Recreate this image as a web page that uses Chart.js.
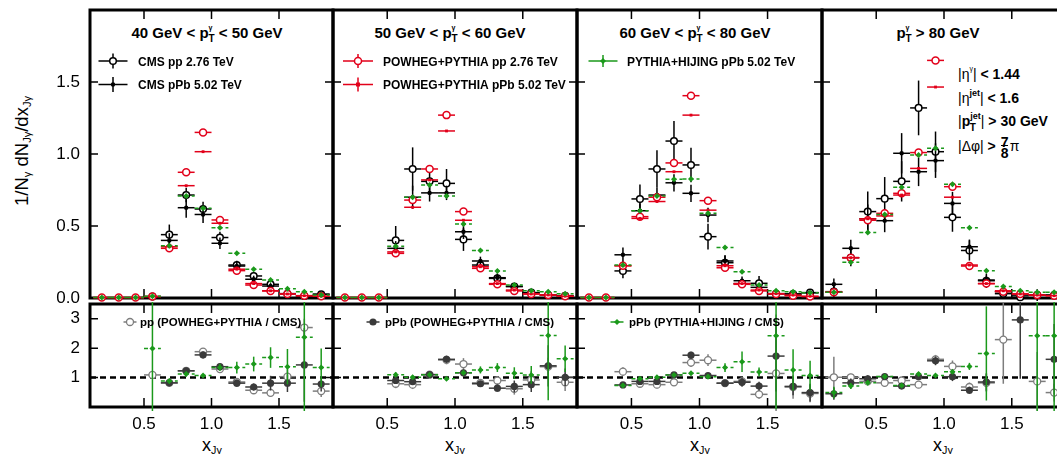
<!DOCTYPE html>
<html>
<head>
  <meta charset="utf-8">
  <title>x_Jγ distributions: CMS data vs POWHEG+PYTHIA and PYTHIA+HIJING</title>
  <style>
    body { margin: 0; width: 1057px; height: 454px; overflow: hidden; position: relative; background: #fff; color: #000; font-family: 'Liberation Sans', Arial, sans-serif; }
    canvas { position: absolute; }
    .t { position: absolute; white-space: nowrap; line-height: 1; }
    .ptitle { font-size: 15px; font-weight: bold; top: 25px; transform: translateX(-50%); }
    .sg { position: relative; font-size: 7px; top: -8px; }
    .sT { position: relative; font-size: 10px; top: 4px; margin-left: -4px; }
    .xt { font-size: 18px; top: 436px; transform: translateX(-50%); }
    .xt sub, #ytitle sub { font-size: 0.6em; position: relative; top: 0.3em; vertical-align: baseline; line-height: 0; }
    #ytitle { font-size: 18.5px; left: 22px; top: 151px; transform: translate(-50%, -50%) rotate(-90deg); }
    .cut { font-size: 14px; font-weight: bold; left: 958px; }
    .rg { font-weight: normal; }
    .sj { position: relative; font-size: 9px; top: -7px; }
    .sj7 { position: relative; font-size: 7px; top: -8px; font-weight: normal; }
    .sTj { position: relative; font-size: 10px; top: 5px; margin-left: -11px; margin-right: 5px; }
    .frac { display: inline-block; position: relative; width: 10px; height: 0; }
    .frac span { position: absolute; left: 1px; }
  </style>
</head>
<body>
  <div class="t" id="ytitle">1/N<sub>γ</sub> dN<sub>Jγ</sub>/dx<sub>Jγ</sub></div>

  <div class="t ptitle" style="left:207px">40 GeV &lt; p<span class="sg">γ</span><span class="sT">T</span> &lt; 50 GeV</div>
  <div class="t ptitle" style="left:450px">50 GeV &lt; p<span class="sg">γ</span><span class="sT">T</span> &lt; 60 GeV</div>
  <div class="t ptitle" style="left:695px">60 GeV &lt; p<span class="sg">γ</span><span class="sT">T</span> &lt; 80 GeV</div>
  <div class="t ptitle" style="left:938px">p<span class="sg">γ</span><span class="sT">T</span> &gt; 80 GeV</div>

  <div class="t cut" style="top:67px"><span class="rg">|η</span><span class="sj7">γ</span><span class="rg">|</span> &lt; 1.44</div>
  <div class="t cut" style="top:91px"><span class="rg">|η</span><span class="sj">jet</span><span class="rg">|</span> &lt; 1.6</div>
  <div class="t cut" style="top:114px"><span class="rg">|</span>p<span class="sj">jet</span><span class="sTj">T</span><span class="rg">|</span> &gt; 30 GeV</div>
  <div class="t cut" style="top:139px"><span class="rg">|Δφ|</span> &gt; <span class="frac"><span style="top:-16px">7</span><span style="top:-6px;border-top:1px solid #000">8</span></span><span class="rg">π</span></div>

  <div class="t xt" style="left:212px">x<sub>Jγ</sub></div>
  <div class="t xt" style="left:455px">x<sub>Jγ</sub></div>
  <div class="t xt" style="left:700px">x<sub>Jγ</sub></div>
  <div class="t xt" style="left:943px">x<sub>Jγ</sub></div>

  <script src="https://cdn.jsdelivr.net/npm/chart.js"></script>
  <script>
    // x_Jγ bins (centres), axis ticks
    const binCenters = [0.1875, 0.3125, 0.4375, 0.5625, 0.6875, 0.8125, 0.9375, 1.0625, 1.1875, 1.3125, 1.4375, 1.5625, 1.6875, 1.8125];
    const binHalfWidth = 0.0625;
    const xTicks = [0.5, 1.0, 1.5];
    const topTicks = [0, 0.5, 1.0, 1.5];
    const ratioTicks = [1, 2, 3];

    // upper panels: one row per photon pT bin (40-50, 50-60, 60-80, >80 GeV)
    const cmsPP = [
      [null, null, null, 0.01, 0.44, 0.715, 0.618, 0.42, 0.229, 0.153, 0.095, 0.03, 0.014, 0.026],
      [null, null, null, 0.40, 0.896, 0.81, 0.796, 0.407, 0.229, 0.136, 0.08, 0.037, 0.021, 0.016],
      [null, null, 0.188, 0.688, 0.896, 1.09, 0.924, 0.426, 0.245, 0.10, 0.102, 0.03, 0.028, 0.037],
      [0.044, 0.28, 0.60, 0.69, 0.81, 1.32, 1.016, 0.56, 0.33, 0.12, 0.03, 0.005, 0.02, 0.02]
    ];
    const cmsPPErr = [
      [0, 0, 0, 0.01, 0.07, 0.05, 0.05, 0.04, 0.03, 0.025, 0.02, 0.012, 0.01, 0.01],
      [0, 0, 0, 0.10, 0.15, 0.08, 0.10, 0.08, 0.04, 0.035, 0.02, 0.015, 0.01, 0.01],
      [0, 0, 0.05, 0.10, 0.13, 0.14, 0.12, 0.09, 0.05, 0.03, 0.05, 0.02, 0.015, 0.015],
      [0.05, 0.06, 0.14, 0.15, 0.14, 0.19, 0.14, 0.10, 0.07, 0.05, 0.03, 0.02, 0.02, 0.02]
    ];
    const cmsPPb = [
      [null, null, null, 0.005, 0.40, 0.627, 0.58, 0.38, 0.222, 0.13, 0.083, 0.03, 0.014, 0.026],
      [null, null, null, 0.345, 0.70, 0.73, 0.73, 0.46, 0.257, 0.141, 0.08, 0.037, 0.021, 0.016],
      [null, null, 0.30, 0.606, 0.715, 0.80, 0.727, 0.576, 0.257, 0.12, 0.074, 0.03, 0.028, 0.037],
      [0.095, 0.345, 0.55, 0.537, 1.005, 0.877, 0.954, 0.657, 0.356, 0.125, 0.044, 0.02, 0.02, 0.02]
    ];
    const cmsPPbErr = [
      [0, 0, 0, 0.005, 0.05, 0.07, 0.06, 0.04, 0.03, 0.025, 0.02, 0.01, 0.01, 0.01],
      [0, 0, 0, 0.05, 0.08, 0.06, 0.05, 0.05, 0.03, 0.025, 0.02, 0.01, 0.01, 0.01],
      [0, 0, 0.05, 0.05, 0.05, 0.06, 0.06, 0.05, 0.04, 0.03, 0.02, 0.015, 0.01, 0.01],
      [0.04, 0.06, 0.10, 0.08, 0.14, 0.10, 0.12, 0.08, 0.05, 0.03, 0.02, 0.02, 0.04, 0.02]
    ];
    const powhegPP = [
      [0.003, 0.003, 0.003, 0.01, 0.345, 0.873, 1.15, 0.542, 0.19, 0.09, 0.049, 0.028, 0.016, 0.012],
      [0.003, 0.003, 0.003, 0.31, 0.68, 0.896, 1.27, 0.60, 0.206, 0.095, 0.049, 0.028, 0.021, 0.012],
      [0.003, 0.003, 0.224, 0.565, 0.70, 0.938, 1.405, 0.676, 0.21, 0.095, 0.049, 0.028, 0.016, 0.01],
      [0.04, 0.28, 0.54, 0.588, 0.727, 1.01, 1.65, 0.773, 0.222, 0.10, 0.044, 0.028, 0.02, 0.016]
    ];
    const powhegPPb = [
      [0.003, 0.003, 0.003, 0.01, 0.356, 0.78, 1.016, 0.519, 0.20, 0.10, 0.05, 0.028, 0.016, 0.012],
      [0.003, 0.003, 0.003, 0.32, 0.63, 0.82, 1.16, 0.54, 0.217, 0.10, 0.055, 0.028, 0.021, 0.012],
      [0.003, 0.003, 0.224, 0.553, 0.67, 0.877, 1.27, 0.61, 0.224, 0.10, 0.055, 0.03, 0.02, 0.012],
      [0.04, 0.28, 0.55, 0.57, 0.715, 0.90, 1.465, 0.70, 0.229, 0.10, 0.05, 0.028, 0.02, 0.016]
    ];
    const hijingPPb = [
      [0.003, 0.003, 0.003, 0.012, 0.363, 0.708, 0.623, 0.488, 0.31, 0.20, 0.125, 0.065, 0.044, 0.02],
      [0.003, 0.003, 0.003, 0.36, 0.70, 0.785, 0.708, 0.514, 0.329, 0.188, 0.09, 0.051, 0.044, 0.03],
      [0.003, 0.003, 0.23, 0.606, 0.708, 0.824, 0.826, 0.588, 0.35, 0.183, 0.09, 0.051, 0.044, 0.037],
      [0.04, 0.248, 0.454, 0.58, 0.769, 0.993, 1.04, 0.79, 0.488, 0.19, 0.08, 0.05, 0.04, 0.04]
    ];

    // lower panels: model / CMS ratios
    const ratioPP = [
      [null, null, null, 1.09, 0.82, 1.23, 1.88, 1.29, 0.85, 0.57, 0.48, 1.03, 2.7, 0.54],
      [null, null, null, 0.79, 0.76, 1.1, 1.6, 1.46, 0.82, 0.9, 0.62, 0.92, 1.37, 0.84],
      [null, null, 1.2, 0.79, 0.76, 0.84, 1.51, 1.59, 0.81, 0.87, 0.43, 1.14, 0.68, 0.46],
      [1.01, 1.01, 0.87, 0.82, 0.9, 0.76, 1.62, 1.38, 0.68, 0.82, 2.29, null, 0.87, 0.49]
    ];
    const ratioPPErr = [
      [0, 0, 0, 0.1, 0.08, 0.08, 0.12, 0.1, 0.1, 0.1, 0.12, 0.25, 0.3, 0.2],
      [0, 0, 0, 0.15, 0.15, 0.1, 0.15, 0.2, 0.12, 0.15, 0.2, 0.3, 0.3, 0.3],
      [0, 0, 0.15, 0.12, 0.12, 0.12, 0.15, 0.2, 0.12, 0.15, 0.15, 2.0, 0.4, 0.3],
      [0.7, 0.12, 0.1, 0.1, 0.1, 0.1, 0.15, 0.2, 0.15, 0.3, 1.5, 0, 1.0, 0.3]
    ];
    const ratioPPb = [
      [null, null, null, null, 0.82, 1.23, 1.77, 1.37, 0.81, 0.68, 0.81, 0.81, 1.43, 0.78],
      [null, null, null, 0.9, 0.86, 1.1, 1.62, 1.16, 0.79, 0.64, 0.7, 0.76, 1.4, 1.01],
      [null, null, 0.75, 0.87, 0.87, 1.09, 1.76, 1.07, 0.81, 0.84, 0.71, 1.73, 0.7, 0.49],
      [0.45, 0.82, 0.96, 1.03, 0.71, 1.03, 1.57, 1.03, 0.57, 0.85, null, 2.96, null, 1.62]
    ];
    const ratioPPbErr = [
      [0, 0, 0, 0, 0.1, 0.1, 0.12, 0.1, 0.12, 0.12, 0.25, 0.3, 1.25, 0.25],
      [0, 0, 0, 0.1, 0.1, 0.08, 0.1, 0.1, 0.1, 0.12, 0.2, 0.25, 0.7, 0.3],
      [0, 0, 0.1, 0.1, 0.1, 0.1, 0.12, 0.1, 0.1, 0.15, 0.15, 1.2, 0.3, 0.3],
      [0.2, 0.15, 0.12, 0.1, 0.1, 0.1, 0.15, 0.15, 0.12, 0.3, 0, 2.0, 0, 1.2]
    ];
    const ratioHijing = [
      [null, null, null, 1.99, 0.88, 1.12, 1.07, 1.34, 1.34, 1.46, 1.68, 1.37, 2.37, 1.34],
      [null, null, null, 1.1, 1.01, 1.1, 0.96, 1.16, 1.26, 1.34, 1.15, 1.09, 2.43, 1.64],
      [null, null, 0.73, 0.96, 1.01, 1.09, 1.15, 1.03, 1.34, 1.54, 1.19, 2.42, 1.26, 1.07],
      [0.49, 0.71, 0.82, 1.04, 0.73, 1.12, 1.07, 1.2, 1.38, 1.82, null, null, 2.42, 2.42]
    ];
    const ratioHijingErr = [
      [0, 0, 0, 3.0, 0.08, 0.08, 0.05, 0.12, 0.2, 0.25, 0.35, 0.6, 3.0, 0.65],
      [0, 0, 0, 0.08, 0.08, 0.06, 0.05, 0.08, 0.12, 0.15, 0.2, 0.3, 2.2, 0.45],
      [0, 0, 0.08, 0.08, 0.06, 0.06, 0.05, 0.08, 0.15, 0.35, 0.15, 2.5, 0.7, 0.5],
      [0.2, 0.1, 0.08, 0.08, 0.06, 0.06, 0.05, 0.06, 0.12, 1.6, 0, 0, 3.0, 3.0]
    ];

    const RED = '#e2001a', GREEN = '#1b991b', GREY = '#7d7d7d', DARK = '#3a3a3a';

    const styles = {
      cmsPP:       { pointStyle: 'circle', pointRadius: 3.3, pointBorderWidth: 1.5, pointBorderColor: '#000', pointBackgroundColor: '#fff', barColor: '#000' },
      cmsPPb:      { pointStyle: 'circle', pointRadius: 2.2, pointBorderWidth: 0, pointBorderColor: '#000', pointBackgroundColor: '#000', barColor: '#000' },
      powhegPP:    { pointStyle: 'circle', pointRadius: 3.5, pointBorderWidth: 1.5, pointBorderColor: RED, pointBackgroundColor: '#fff', barColor: RED },
      powhegPPb:   { pointStyle: 'rect', pointRadius: 2, pointBorderWidth: 0, pointBorderColor: RED, pointBackgroundColor: RED, barColor: RED },
      hijingPPb:   { pointStyle: 'rectRot', pointRadius: 3, pointBorderWidth: 0, pointBorderColor: GREEN, pointBackgroundColor: GREEN, barColor: GREEN, barDash: [4, 3] },
      ratioPP:     { pointStyle: 'circle', pointRadius: 3.5, pointBorderWidth: 1.3, pointBorderColor: GREY, pointBackgroundColor: '#fff', barColor: GREY },
      ratioPPb:    { pointStyle: 'circle', pointRadius: 3.6, pointBorderWidth: 0, pointBorderColor: DARK, pointBackgroundColor: DARK, barColor: DARK },
      ratioHijing: { pointStyle: 'rectRot', pointRadius: 3, pointBorderWidth: 0, pointBorderColor: GREEN, pointBackgroundColor: GREEN, barColor: GREEN, barDash: [4, 3] }
    };

    function series(kind, vals, errs) {
      const st = styles[kind];
      return Object.assign({
        data: vals.map((v, k) => ({ x: binCenters[k], y: v })),
        errY: errs || null,
        showLine: false,
        clip: 6,
        pointHoverRadius: st.pointRadius
      }, st);
    }

    // frame with inward ticks (and unity line on ratio panels)
    const frame = {
      id: 'frame',
      beforeDatasetsDraw(chart, args, opts) {
        const { ctx, chartArea: a, scales: { x, y } } = chart;
        ctx.save();
        if (opts.unity) {
          const py = y.getPixelForValue(1);
          ctx.strokeStyle = '#000';
          ctx.lineWidth = 2.5;
          ctx.setLineDash([6, 4]);
          ctx.beginPath(); ctx.moveTo(a.left, py); ctx.lineTo(a.right, py); ctx.stroke();
          ctx.setLineDash([]);
        }
        ctx.strokeStyle = '#000';
        ctx.lineWidth = 1.5;
        ctx.beginPath();
        xTicks.forEach(v => {
          const px = x.getPixelForValue(v);
          ctx.moveTo(px, a.top); ctx.lineTo(px, a.top + 9);
          ctx.moveTo(px, a.bottom); ctx.lineTo(px, a.bottom - 9);
        });
        opts.yTicks.forEach(v => {
          if (v === 0) return;
          const py = y.getPixelForValue(v);
          ctx.moveTo(a.left, py); ctx.lineTo(a.left + 8, py);
          ctx.moveTo(a.right, py); ctx.lineTo(a.right - 8, py);
        });
        ctx.stroke();
        ctx.lineWidth = 3;
        ctx.strokeRect(a.left, a.top, a.right - a.left, a.bottom - a.top);
        ctx.restore();
      }
    };

    // bin-width bars and vertical uncertainties, drawn under each dataset's markers
    const errorBars = {
      id: 'errorBars',
      beforeDatasetDraw(chart, args) {
        const ds = chart.data.datasets[args.index];
        const { ctx, chartArea: a, scales: { x, y } } = chart;
        ctx.save();
        ctx.beginPath();
        ctx.rect(a.left - 2, a.top - 2, a.right - a.left + 4, a.bottom - a.top + 6);
        ctx.clip();
        ctx.strokeStyle = ds.barColor;
        ctx.lineWidth = 1.5;
        ds.data.forEach((p, i) => {
          if (p.y === null) return;
          const px = x.getPixelForValue(p.x), py = y.getPixelForValue(p.y);
          ctx.setLineDash(ds.barDash || []);
          ctx.beginPath();
          ctx.moveTo(x.getPixelForValue(p.x - binHalfWidth), py);
          ctx.lineTo(x.getPixelForValue(p.x + binHalfWidth), py);
          ctx.stroke();
          const e = ds.errY ? ds.errY[i] : 0;
          if (e) {
            ctx.setLineDash([]);
            ctx.beginPath();
            ctx.moveTo(px, y.getPixelForValue(p.y - e));
            ctx.lineTo(px, y.getPixelForValue(p.y + e));
            ctx.stroke();
          }
        });
        ctx.restore();
      }
    };

    function drawMark(ctx, st, x, y) {
      const r = st.pointRadius;
      ctx.save();
      ctx.fillStyle = st.pointBackgroundColor;
      ctx.strokeStyle = st.pointBorderColor;
      ctx.lineWidth = st.pointBorderWidth;
      ctx.beginPath();
      if (st.pointStyle === 'rect') ctx.rect(x - r, y - r, 2 * r, 2 * r);
      else if (st.pointStyle === 'rectRot') { ctx.moveTo(x, y - r); ctx.lineTo(x + r, y); ctx.lineTo(x, y + r); ctx.lineTo(x - r, y); ctx.closePath(); }
      else ctx.arc(x, y, r, 0, Math.PI * 2);
      ctx.fill();
      if (st.pointBorderWidth) ctx.stroke();
      ctx.restore();
    }

    const panelLegend = {
      id: 'panelLegend',
      afterDatasetsDraw(chart, args, opts) {
        const { ctx, chartArea: a } = chart;
        (opts.entries || []).forEach(e => {
          const st = styles[e.kind];
          const mx = a.left + e.mx, my = a.top + e.my;
          ctx.save();
          ctx.strokeStyle = st.barColor;
          ctx.lineWidth = 1.5;
          ctx.beginPath();
          ctx.moveTo(mx - e.half, my); ctx.lineTo(mx + e.half, my);
          if (e.vbar) { ctx.moveTo(mx, my - e.vbar); ctx.lineTo(mx, my + e.vbar); }
          ctx.stroke();
          ctx.restore();
          drawMark(ctx, st, mx, my);
          ctx.save();
          ctx.fillStyle = '#000';
          ctx.font = 'bold ' + e.size + 'px "Liberation Sans", Arial, sans-serif';
          ctx.fillText(e.text, a.left + e.tx, a.top + e.ty);
          ctx.restore();
        });
      }
    };

    const topLegends = [
      [
        { kind: 'cmsPP', text: 'CMS pp 2.76 TeV', mx: 23, my: 51, half: 14.5, vbar: 7.5, tx: 48, ty: 55.7, size: 12 },
        { kind: 'cmsPPb', text: 'CMS pPb 5.02 TeV', mx: 23, my: 74.5, half: 14.5, vbar: 7.5, tx: 48, ty: 79.3, size: 12 }
      ],
      [
        { kind: 'powhegPP', text: 'POWHEG+PYTHIA pp 2.76 TeV', mx: 25, my: 51, half: 15, vbar: 7, tx: 50, ty: 55.7, size: 12 },
        { kind: 'powhegPPb', text: 'POWHEG+PYTHIA pPb 5.02 TeV', mx: 25, my: 74.5, half: 15, vbar: 7, tx: 50, ty: 79.3, size: 12 }
      ],
      [
        { kind: 'hijingPPb', text: 'PYTHIA+HIJING pPb 5.02 TeV', mx: 26, my: 51, half: 14.5, vbar: 6, tx: 50, ty: 55.7, size: 12 }
      ],
      []
    ];
    const ratioLegends = [
      [{ kind: 'ratioPP', text: 'pp (POWHEG+PYTHIA / CMS)', mx: 40, my: 18, half: 6.5, vbar: 0, tx: 50, ty: 22, size: 11.5 }],
      [{ kind: 'ratioPPb', text: 'pPb (POWHEG+PYTHIA / CMS)', mx: 40, my: 18, half: 6.5, vbar: 0, tx: 52, ty: 22, size: 11.5 }],
      [{ kind: 'ratioHijing', text: 'pPb (PYTHIA+HIJING / CMS)', mx: 40, my: 18, half: 6.5, vbar: 0, tx: 52, ty: 22, size: 11.5 }],
      []
    ];

    // frame geometry (page pixels)
    const edges = [90, 333, 577, 822, 1066];
    const pad = 10;
    const topArea = { top: 10, bottom: 298 };
    const ratioArea = { top: 304, bottom: 407 };
    const vpad = 24;   // room kept above/below the frames so tick-label padding never moves them
    const xAxisHeight = 47;
    const tickFont = { family: "'Liberation Sans', Arial, sans-serif", size: 17 };

    function makeChart(p, ratio) {
      const L = edges[p], R = edges[p + 1], first = p === 0;
      const area = ratio ? ratioArea : topArea;
      const left = first ? 0 : L - pad;
      const top = area.top - vpad;
      const height = ratio ? (454 - top) : (area.bottom - area.top + 2 * vpad);
      const canvas = document.createElement('canvas');
      canvas.width = R + pad - left;
      canvas.height = height;
      canvas.style.left = left + 'px';
      canvas.style.top = top + 'px';
      document.body.appendChild(canvas);

      const datasets = ratio
        ? [series('ratioHijing', ratioHijing[p], ratioHijingErr[p]),
           series('ratioPPb', ratioPPb[p], ratioPPbErr[p]),
           series('ratioPP', ratioPP[p], ratioPPErr[p])]
        : [series('hijingPPb', hijingPPb[p], null),
           series('powhegPPb', powhegPPb[p], null),
           series('powhegPP', powhegPP[p], null),
           series('cmsPPb', cmsPPb[p], cmsPPbErr[p]),
           series('cmsPP', cmsPP[p], cmsPPErr[p])];

      const yTicks = ratio ? ratioTicks : topTicks;
      const xScale = {
        type: 'linear', min: 0.1, max: 1.9, display: ratio,
        afterBuildTicks: s => { s.ticks = xTicks.map(v => ({ value: v })); },
        ticks: { font: tickFont, color: '#000', padding: 7, maxRotation: 0, autoSkip: false, callback: v => v.toFixed(1) },
        grid: { display: false, drawTicks: false },
        border: { display: false }
      };
      if (ratio) xScale.afterFit = s => { s.height = xAxisHeight; };
      const yScale = {
        type: 'linear', min: 0, max: ratio ? 3.5 : 2, display: first,
        afterBuildTicks: s => { s.ticks = yTicks.map(v => ({ value: v })); },
        ticks: { font: tickFont, color: '#000', padding: 10, callback: v => ratio ? String(v) : v.toFixed(1) },
        grid: { display: false, drawTicks: false },
        border: { display: false }
      };
      if (first) yScale.afterFit = s => { s.width = L; };

      new Chart(canvas, {
        type: 'scatter',
        data: { datasets },
        options: {
          responsive: false,
          animation: false,
          events: [],
          devicePixelRatio: 1,
          layout: { padding: { left: first ? 0 : pad, right: pad, top: vpad, bottom: ratio ? 0 : vpad } },
          plugins: {
            legend: { display: false },
            tooltip: { enabled: false },
            frame: { yTicks, unity: ratio },
            panelLegend: { entries: ratio ? ratioLegends[p] : topLegends[p] }
          },
          scales: { x: xScale, y: yScale }
        },
        plugins: [frame, errorBars, panelLegend]
      });
    }

    for (let p = 0; p < 4; p++) {
      makeChart(p, false);
      makeChart(p, true);
    }
  </script>
</body>
</html>
